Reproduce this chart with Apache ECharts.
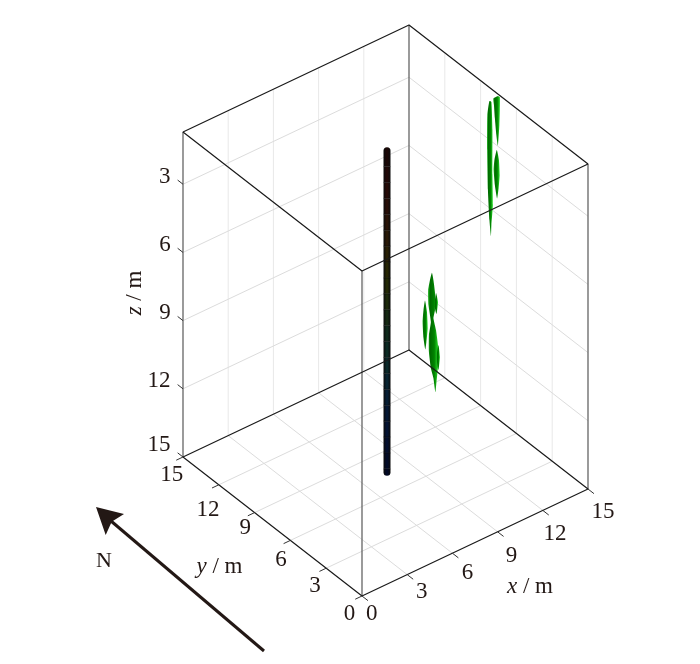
<!DOCTYPE html>
<html>
<head>
<meta charset="utf-8">
<style>html,body{margin:0;padding:0;background:#fff}#c{width:700px;height:664px}</style>
<script src="https://cdn.jsdelivr.net/npm/echarts@6/dist/echarts.min.js"></script>
</head>
<body>
<div id="c"></div>
<script>
// ---- data (world coordinates, metres) ----
const xTicks = [0, 3, 6, 9, 12, 15];
const yTicks = [0, 3, 6, 9, 12, 15];
const zTicks = [3, 6, 9, 12, 15];
const zTop = 0.7;
const boundHi = 15;

const wellXY = [7.6, 7.5];
const tubeZ = [0.85,1.55,2.25,2.95,3.65,4.35,5.05,5.75,6.45,7.15,7.85,8.55,9.25,9.95,10.65,11.35,12.05,12.75,13.45,14.15,14.85,15.0];
const tubeColors = ['#1c0605','#240706','#2a0a06','#2c0e06','#2e1406','#2e1b05','#2e2303','#2c2a01','#272e03','#1f2e0a','#172e14','#10301f','#0b3028','#0a2e30','#082838','#05213c','#031a3c','#02143a','#010f34','#000b2c','#00082a'];

const y1 = 7.3, y2 = 9;
const fractureA = [[14.24,y1,0.67],[14.37,y1,0.75],[14.44,y1,2.0],[14.44,y1,3.98],[14.47,y1,5.31],[14.37,y1,6.16],[14.34,y1,6.64],[14.24,y1,5.9],[14.14,y1,4.55],[14.09,y1,2.78],[14.10,y1,1.24]];
const fractureB = [[14.5,y1,0.64],[14.8,y1,0.62],[14.93,y1,0.71],[14.93,y1,1.28],[14.9,y1,1.93],[14.8,y1,2.82],[14.7,y1,2.31],[14.6,y1,1.53],[14.54,y1,0.94]];
const fractureC = [[14.73,y1,2.98],[14.87,y1,3.46],[14.92,y1,4.14],[14.85,y1,4.69],[14.75,y1,5.12],[14.6,y1,4.48],[14.52,y1,3.79],[14.57,y1,3.37]];
const fractureD = [[11.77,y2,8.14],[11.87,y2,8.5],[11.97,y2,9.06],[11.97,y2,9.85],[11.87,y2,10.17],[12.04,y2,10.75],[12.17,y2,11.45],[12.2,y2,12.21],[12.14,y2,12.63],[12.07,y2,13.05],[12.0,y2,13.47],[11.87,y2,12.81],[11.7,y2,12.32],[11.57,y2,11.57],[11.57,y2,10.82],[11.7,y2,10.29],[11.54,y2,9.49],[11.52,y2,8.83],[11.64,y2,8.42]];
const fractureE = [[11.31,y2,9.22],[11.44,y2,9.77],[11.49,y2,10.49],[11.4,y2,11.08],[11.33,y2,11.38],[11.21,y2,10.84],[11.15,y2,10.12],[11.21,y2,9.61]];
const fractureF = [[12.04,y2,9.12],[12.17,y2,9.56],[12.07,y2,10.05],[11.94,y2,9.62]];
const fractureG = [[12.2,y2,11.46],[12.3,y2,12.02],[12.2,y2,12.56],[12.07,y2,11.95]];
const fractures = [fractureA, fractureB, fractureC, fractureE, fractureF, fractureD, fractureG];

// ---- north arrow (on the page's plane) ----
const arrowTail = [264, 651];
const arrowNeck = [111, 521];
const arrowHead = [[96, 507], [124, 514], [111.7, 521.7], [105.7, 535]];

// ---- layout / style config ----
const FONT = '"Liberation Serif","Times New Roman",serif';
const INK = '#231815';
const proj = { ox: 362, oy: 596, xx: 226 / 15, xy: -107 / 15, yx: -179 / 15, yy: -139 / 15, zy: 22.73 };
function P(x, y, z) {
  return [proj.ox + proj.xx * x + proj.yx * y,
          proj.oy + proj.xy * x + proj.yy * y - proj.zy * (15 - z)];
}
const xLabelOff = [[9.7,18],[14.5,17.4],[15,19.8],[13.9,23.9],[12.2,23.9],[15,22.7]];
const yLabelOff = [[-12.5,18],[-11.2,17.8],[-9.4,19.6],[-9.3,15.7],[-10.8,24.7],[-11.3,18]];
const zLabelOff = [[-18.3,-7.2],[-18,-7.4],[-18,-7.6],[-24,-7.8],[-24,-12]];

// ---- helpers ----
function polyline(segs) {
  const out = [];
  segs.forEach(s => { s.forEach(p => out.push(p)); out.push([null, null]); });
  return out;
}
function lineSeries(segs, color, width, z) {
  return { type: 'line', data: polyline(segs), showSymbol: false, symbol: 'none', silent: true,
    connectNulls: false, clip: false, z: z, animation: false,
    lineStyle: { color: color, width: width, cap: 'butt' } };
}
const H = boundHi;
// grid lines
const inner = v => v > 0 && v < H;
const floorSegs = [], wallHSegs = [], wallVSegs = [];
xTicks.filter(inner).forEach(v => {
  floorSegs.push([P(v, 0, H), P(v, H, H)]);
  wallVSegs.push([P(v, H, H), P(v, H, zTop)]);
});
yTicks.filter(inner).forEach(v => {
  floorSegs.push([P(0, v, H), P(H, v, H)]);
  wallVSegs.push([P(H, v, H), P(H, v, zTop)]);
});
zTicks.filter(inner).forEach(v => {
  wallHSegs.push([P(0, H, v), P(H, H, v), P(H, 0, v)]);
});
// box
const blackEdges = [
  [P(0,0,zTop),P(H,0,zTop),P(H,H,zTop),P(0,H,zTop),P(0,0,zTop)],
  [P(0,0,H),P(H,0,H),P(H,H,H),P(0,H,H),P(0,0,H)]
];
const grayEdges = [
  [P(0,0,H),P(0,0,zTop)],[P(H,0,H),P(H,0,zTop)],[P(H,H,H),P(H,H,zTop)],[P(0,H,H),P(0,H,zTop)]
];
// ticks
const tickSegs = [];
xTicks.forEach(v => tickSegs.push([P(v,0,H),P(v,-0.5,H)]));
yTicks.forEach(v => tickSegs.push([P(0,v,H),P(-0.45,v,H)]));
zTicks.forEach(v => tickSegs.push([P(0,H,v),P(0,H+0.45,v)]));
// text
function txt(pos, off, str) {
  return { value: [pos[0] + off[0], pos[1] + off[1]], label: { formatter: str } };
}
const labelData = [];
xTicks.forEach((v,i) => labelData.push(txt(P(v,0,H), xLabelOff[i], String(v))));
yTicks.forEach((v,i) => labelData.push(txt(P(0,v,H), yLabelOff[i], String(v))));
zTicks.forEach((v,i) => labelData.push(txt(P(0,H,v), zLabelOff[i], String(v))));
labelData.push({ value: [104, 561], label: { formatter: 'N', fontSize: 22 } });
labelData.push({ value: [530, 587], label: { formatter: '{i|x} / m' } });
labelData.push({ value: [219.5, 567], label: { formatter: '{i|y} / m' } });
labelData.push({ value: [135, 293], label: { formatter: '{i|z} / m', rotate: 90 } });

const option = {
  backgroundColor: '#fff',
  animation: false,
  grid: { left: 0, right: 0, top: 0, bottom: 0, containLabel: false },
  xAxis: { type: 'value', min: 0, max: 700, show: false },
  yAxis: { type: 'value', min: 0, max: 664, inverse: true, show: false },
  series: [
    lineSeries(wallVSegs, '#e8e8e8', 1, 1),
    lineSeries(wallHSegs, '#dcdcdc', 1, 1),
    lineSeries(floorSegs, '#dcdcdc', 1, 1),
    { type: 'custom', z: 3, silent: true, clip: false,
      coordinateSystem: 'cartesian2d',
      data: tubeColors.map((c, i) => [wellXY[0], tubeZ[i]]),
      renderItem(params, api) {
        const i = params.dataIndex;
        const a = P(wellXY[0], wellXY[1], tubeZ[i]);
        const b = P(wellXY[0], wellXY[1], tubeZ[i + 1]);
        const pa = api.coord(a), pb = api.coord(b);
        const w = 7, first = i === 0, last = i === tubeColors.length - 1;
        const top = pa[1] - (first ? 3.5 : 0), bottom = pb[1] + (last ? 3.5 : 0);
        return { type: 'group', children: [
          { type: 'rect',
            shape: { x: pa[0] - w / 2, y: top, width: w, height: bottom - top,
                     r: first ? [3.5,3.5,0,0] : last ? [0,0,3.5,3.5] : 0 },
            style: { fill: new echarts.graphic.LinearGradient(0,0,1,0,[
              {offset:0,color:'#0b0b0b'},{offset:0.5,color:tubeColors[i]},{offset:1,color:'#0b0b0b'}]) } },
          { type: 'line', shape: { x1: pa[0]-w/2, y1: pa[1], x2: pa[0]+w/2, y2: pa[1] },
            style: { stroke: '#0a0a0a', lineWidth: 1, opacity: first ? 0 : 0.55 } }
        ]};
      } },
    { type: 'custom', z: 4, silent: true, clip: false,
      coordinateSystem: 'cartesian2d',
      data: fractures.map(f => P(f[0][0], f[0][1], f[0][2])),
      renderItem(params, api) {
        const pts = fractures[params.dataIndex].map(p => api.coord(P(p[0], p[1], p[2])));
        return { type: 'polygon', shape: { points: pts, smooth: 0.15 },
          style: { fill: new echarts.graphic.LinearGradient(0,0,1,0,[
            {offset:0,color:'#16b016'},{offset:0.22,color:'#006a00'},{offset:0.6,color:'#008400'},{offset:1,color:'#2ee02e'}]) } };
      } },
    lineSeries(grayEdges, '#666666', 1.3, 5),
    lineSeries(blackEdges, '#1a1a1a', 1.2, 6),
    lineSeries(tickSegs, '#333333', 1, 6),
    lineSeries([[arrowTail, arrowNeck]], INK, 3, 7),
    { type: 'custom', z: 7, silent: true, clip: false,
      coordinateSystem: 'cartesian2d',
      data: [arrowHead[0]],
      renderItem(params, api) {
        return { type: 'polygon', shape: { points: arrowHead.map(p => api.coord(p)) }, style: { fill: INK } };
      } },
    { type: 'scatter', z: 8, silent: true, symbolSize: 0, clip: false,
      itemStyle: { opacity: 1 },
      data: labelData,
      label: { show: true, position: 'inside', align: 'center', verticalAlign: 'middle', opacity: 1,
        fontFamily: FONT, fontSize: 23, color: INK,
        rich: { i: { fontFamily: FONT, fontStyle: 'italic', fontSize: 23, color: INK } } } }
  ]
};
const chart = echarts.init(document.getElementById('c'), null, { renderer: 'canvas' });
chart.setOption(option);
</script>
</body>
</html>
